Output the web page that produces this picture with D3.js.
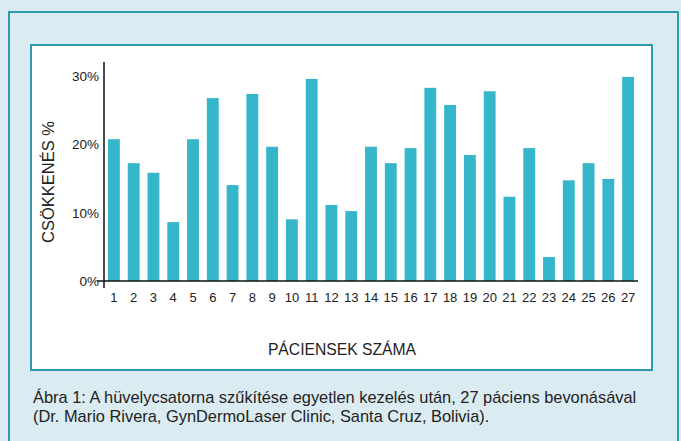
<!DOCTYPE html>
<meta charset="utf-8">
<title>Csökkenés</title>
<script src="https://cdn.jsdelivr.net/npm/d3@7"></script>
<style>
  body { margin: 0; background: #dbebf2; }
  svg { display: block; font-family: "Liberation Sans", Arial, sans-serif; }
</style>
<body>
<script>

// data
var patients = d3.range(1, 28)
   ,reduction = [20.7, 17.2, 15.8, 8.6, 20.7, 26.7, 14.0, 27.3, 19.6, 9.0,
                 29.5, 11.1, 10.2, 19.6, 17.2, 19.4, 28.2, 25.7, 18.4, 27.7,
                 12.3, 19.4, 3.5, 14.7, 17.2, 14.9, 29.8]
   ,yTicks = [0, 10, 20, 30]
   ,yLabel = "CSÖKKENÉS %"
   ,xLabel = "PÁCIENSEK SZÁMA"
   ,caption = ["Ábra 1: A hüvelycsatorna szűkítése egyetlen kezelés után, 27 páciens bevonásával",
               "(Dr. Mario Rivera, GynDermoLaser Clinic, Santa Cruz, Bolivia)."];

var W = 681, H = 441
   ,teal = "#2a9cad"
   ,barColor = "#35b6ca";

var svg = d3.select("body").append("svg")
    .attr("width", W)
    .attr("height", H);

// outer frame + white panel
svg.append("rect").attr("x", 9).attr("y", 12).attr("width", 669).attr("height", 440)
   .attr("fill", "#dbebf2").attr("stroke", teal).attr("stroke-width", 2);
svg.append("rect").attr("x", 31).attr("y", 45).attr("width", 621).attr("height", 325)
   .attr("fill", "#fff").attr("stroke", teal).attr("stroke-width", 2);

var x = d3.scaleBand()
    .domain(patients)
    .range([104, 638])
    .paddingInner(0.4)
    .paddingOuter(0.2);

var y = d3.scaleLinear()
    .domain([0, 30])
    .range([281, 75.5]);

svg.selectAll(".bar")
  .data(reduction)
  .enter().append("rect")
    .attr("class", "bar")
    .attr("x", function (d, i) { return x(patients[i]) })
    .attr("width", x.bandwidth())
    .attr("y", function (d) { return y(d) })
    .attr("height", function (d) { return y(0) - y(d) })
    .attr("fill", barColor);

// y axis
var yAxis = svg.append("g")
    .attr("transform", "translate(104,0)")
    .call(d3.axisLeft(y).tickValues(yTicks).tickFormat(function (d) { return d + "%" }).tickSize(0).tickPadding(5));
yAxis.select(".domain").remove();
yAxis.selectAll("text").attr("font-size", 13.5).attr("fill", "#222").attr("dy", "0.35em");
svg.append("line").attr("x1", 104).attr("x2", 104).attr("y1", 62).attr("y2", 288)
   .attr("stroke", "#111").attr("stroke-width", 1.5);
svg.append("line").attr("x1", 97).attr("x2", 638).attr("y1", y(0)).attr("y2", y(0))
   .attr("stroke", "#111").attr("stroke-width", 1.5);

// x axis labels
var xAxis = svg.append("g")
    .attr("transform", "translate(0," + y(0) + ")")
    .call(d3.axisBottom(x).tickSize(0).tickPadding(12));
xAxis.select(".domain").remove();
xAxis.selectAll("text").attr("font-size", 13).attr("fill", "#222");

svg.append("text")
    .attr("transform", "translate(54,182) rotate(-90)")
    .attr("text-anchor", "middle")
    .attr("font-size", 16.5)
    .attr("fill", "#222")
    .text(yLabel);

svg.append("text")
    .attr("x", 342).attr("y", 355)
    .attr("text-anchor", "middle")
    .attr("font-size", 15.7)
    .attr("fill", "#222")
    .text(xLabel);

svg.selectAll(".cap")
  .data(caption)
  .enter().append("text")
    .attr("class", "cap")
    .attr("x", 33)
    .attr("y", function (d, i) { return 403 + i * 19 })
    .attr("font-family", "'Liberation Sans Narrow', 'Arial Narrow', sans-serif")
    .attr("font-size", 16.4)
    .attr("fill", "#222")
    .text(function (d) { return d });

</script>
